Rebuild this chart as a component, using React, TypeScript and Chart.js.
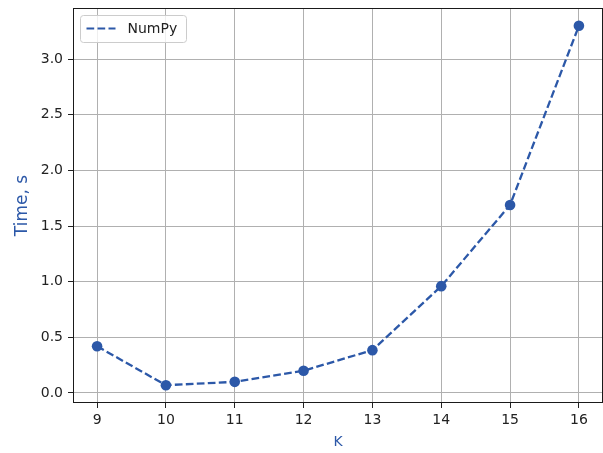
import React, { useEffect, useRef } from "react";
import { Chart, registerables } from "chart.js";

Chart.register(...registerables);

const kValues = [9, 10, 11, 12, 13, 14, 15, 16];
const numpyTimes = [0.42, 0.07, 0.1, 0.2, 0.385, 0.96, 1.69, 3.3];
const xTicks = [9, 10, 11, 12, 13, 14, 15, 16];
const yTicks = [0, 0.5, 1.0, 1.5, 2.0, 2.5, 3.0];
const seriesLabel = "NumPy";
const xTitle = "K";
const yTitle = "Time, s";

const BLUE = "#2c58a8";
const FONT = "'DejaVu Sans', sans-serif";

const framePlugin = {
  id: "frameAndLegend",
  afterDraw(chart: any) {
    const { ctx, chartArea } = chart;
    ctx.save();
    ctx.strokeStyle = "#1a1a1a";
    ctx.lineWidth = 1;
    ctx.strokeRect(
      Math.round(chartArea.left) + 0.5,
      Math.round(chartArea.top) + 0.5,
      Math.round(chartArea.right - chartArea.left) - 1,
      Math.round(chartArea.bottom - chartArea.top) - 1
    );
    // legend
    const lx = chartArea.left + 7.5;
    const ly = chartArea.top + 7.5;
    const w = 106;
    const h = 27;
    const r = 3;
    ctx.beginPath();
    ctx.moveTo(lx + r, ly);
    ctx.lineTo(lx + w - r, ly);
    ctx.arcTo(lx + w, ly, lx + w, ly + r, r);
    ctx.lineTo(lx + w, ly + h - r);
    ctx.arcTo(lx + w, ly + h, lx + w - r, ly + h, r);
    ctx.lineTo(lx + r, ly + h);
    ctx.arcTo(lx, ly + h, lx, ly + h - r, r);
    ctx.lineTo(lx, ly + r);
    ctx.arcTo(lx, ly, lx + r, ly, r);
    ctx.closePath();
    ctx.fillStyle = "rgba(255,255,255,0.8)";
    ctx.fill();
    ctx.strokeStyle = "#cccccc";
    ctx.stroke();
    ctx.beginPath();
    ctx.setLineDash([7.7, 3.3]);
    ctx.lineWidth = 2.2;
    ctx.strokeStyle = BLUE;
    ctx.moveTo(lx + 6, ly + 13);
    ctx.lineTo(lx + 35, ly + 13);
    ctx.stroke();
    ctx.setLineDash([]);
    ctx.fillStyle = "#222";
    ctx.font = `14px ${FONT}`;
    ctx.textBaseline = "middle";
    ctx.textAlign = "left";
    ctx.fillText(chart.data.datasets[0].label, lx + 47, ly + 13.5);
    ctx.restore();
  },
};

export default function App() {
  const ref = useRef<HTMLCanvasElement>(null);
  useEffect(() => {
    if (!ref.current) return;
    const chart = new Chart(ref.current, {
      type: "line",
      data: {
        datasets: [
          {
            label: seriesLabel,
            data: kValues.map((k, i) => ({ x: k, y: numpyTimes[i] })),
            borderColor: BLUE,
            backgroundColor: BLUE,
            borderWidth: 2.3,
            borderDash: [7.7, 3.3],
            pointRadius: 5.3,
            pointBorderWidth: 0,
            pointBackgroundColor: BLUE,
            tension: 0,
          },
        ],
      },
      options: {
        animation: false,
        responsive: false,
        layout: { autoPadding: false, padding: { top: 8, right: 0, left: 0, bottom: 0 } },
        plugins: { legend: { display: false }, tooltip: { enabled: false } },
        scales: {
          x: {
            type: "linear",
            min: 8.65,
            max: 16.35,
            afterBuildTicks: (s: any) => {
              s.ticks = xTicks.map((v) => ({ value: v }));
            },
            afterFit: (s: any) => {
              s.height = 50;
              s.paddingLeft = 0;
              s.paddingRight = 0;
              s.paddingTop = 0;
              s.paddingBottom = 0;
            },
            grid: {
              color: "#b0b0b0",
              lineWidth: 1,
              tickLength: 5,
              tickColor: "#222",
            },
            border: { display: false },
            ticks: {
              color: "#222",
              font: { family: FONT, size: 14 },
              padding: 4,
              maxRotation: 0,
              callback: (v: any) => String(v),
            },
            title: {
              display: true,
              text: xTitle,
              color: BLUE,
              font: { family: FONT, size: 14 },
              padding: { top: 0, bottom: 2 },
            },
          },
          y: {
            type: "linear",
            min: -0.09,
            max: 3.46,
            afterBuildTicks: (s: any) => {
              s.ticks = yTicks.map((v) => ({ value: v }));
            },
            afterFit: (s: any) => {
              s.width = 73;
              s.paddingLeft = 0;
              s.paddingRight = 0;
              s.paddingTop = 0;
              s.paddingBottom = 0;
            },
            grid: {
              color: "#b0b0b0",
              lineWidth: 1,
              tickLength: 5,
              tickColor: "#222",
            },
            border: { display: false },
            ticks: {
              color: "#222",
              font: { family: FONT, size: 14 },
              padding: 5,
              callback: (v: any) => Number(v).toFixed(1),
            },
            title: {
              display: true,
              text: yTitle,
              color: BLUE,
              font: { family: FONT, size: 17 },
              padding: { top: 12, bottom: 0 },
            },
          },
        },
      },
      plugins: [framePlugin],
    });
    return () => chart.destroy();
  }, []);
  return (
    <div style={{ position: "absolute", left: 0, top: 0, width: 603, height: 453, background: "#fff" }}>
      <canvas ref={ref} width={603} height={453} />
    </div>
  );
}
